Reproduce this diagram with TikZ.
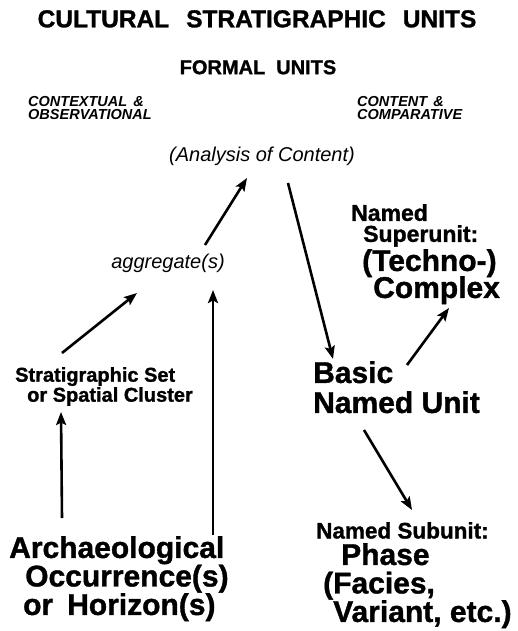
\documentclass[tikz,border=0pt]{standalone}
\usepackage{fontspec}
\setmainfont{Liberation Sans}[BoldFeatures={FakeBold=1.2}]
\usetikzlibrary{arrows.meta}
\newcommand\fsz[2]{\fontsize{#1}{#2}\selectfont\lineskiplimit=-30pt}
\tikzset{
  txt/.style={inner sep=0pt, text=black},
  arr/.style={line width=2.6pt, -{Stealth[length=13pt,width=10pt,inset=2.5pt]}},
}
\begin{document}
\begin{tikzpicture}[x=1pt,y=-1pt]
  \useasboundingbox (0,0) rectangle (517,631);
  % headings
  \node[txt,anchor=north,font=\fsz{24.5}{24}\bfseries] (title) at (257,10) {CULTURAL\hspace{17pt}STRATIGRAPHIC\hspace{17pt}UNITS};
  \node[txt,anchor=north,font=\fsz{20}{20}\bfseries] (formal) at (258,60) {FORMAL\hspace{11pt}UNITS};
  \node[txt,anchor=north west,align=left,font=\fsz{14.5}{13}\bfseries\itshape] (ctx) at (28,96) {CONTEXTUAL\hspace{6pt}\&\\OBSERVATIONAL};
  \node[txt,anchor=north west,align=left,font=\fsz{14.5}{13}\bfseries\itshape] (cmp) at (357,96) {CONTENT\hspace{6pt}\&\\COMPARATIVE};

  % units
  \node[txt,anchor=base,font=\fsz{20}{20}\itshape] (ana) at (262,162) {(Analysis of Content)};
  \node[txt,anchor=base,font=\fsz{20}{20}\itshape] (agg) at (168,268) {aggregate(s)};
  \node[txt,anchor=north west,align=left,font=\fsz{20}{20}\bfseries] (strat) at (15,367) {Stratigraphic Set\\\hspace{12pt}or Spatial Cluster};
  \node[txt,anchor=north west,align=left,font=\fsz{30}{28.5}\bfseries] (arch) at (9,536) {Archaeological\\\hspace{16pt}Occurrence(s)\\\hspace{14pt}or\hspace{14pt}Horizon(s)};
  \node[txt,anchor=north west,align=left,font=\fsz{30}{30}\bfseries] (basic) at (313,361) {Basic\\Named Unit};
  \node[txt,anchor=north west,align=left,font=\fsz{23}{21}\bfseries] (supname) at (351,204) {Named\\\hspace{12pt}Superunit:};
  \node[txt,anchor=north west,align=left,font=\fsz{30}{27}\bfseries] (super) at (362,249) {(Techno-)\\\hspace{11pt}Complex};
  \node[txt,anchor=north west,font=\fsz{22.5}{22.5}\bfseries] (subname) at (316,522) {Named Subunit:};
  \node[txt,anchor=north west,align=left,font=\fsz{30}{28.5}\bfseries] (sub) at (323,543) {\hspace{18pt}Phase\\(Facies,\\\hspace{10pt}Variant, etc.)};

  % arrows
  \draw[arr] ([shift={(53,-18)}]arch.north west) -- ([shift={(46,45)}]strat.north west);
  \draw[arr] ([shift={(204,-1)}]arch.north west) -- ([shift={(45,22)}]agg.base);
  \draw[arr] ([shift={(47,-14)}]strat.north west) -- ([shift={(-31,25)}]agg.base);
  \draw[arr] ([shift={(37,-23)}]agg.base) -- ([shift={(-15,16)}]ana.base);
  \draw[arr] ([shift={(26,21)}]ana.base) -- ([shift={(20,-2)}]basic.north west);
  \draw[arr] ([shift={(94,4)}]basic.north west) -- ([shift={(87,59)}]super.north west);
  \draw[arr] ([shift={(51,69)}]basic.north west) -- ([shift={(96,-12)}]subname.north west);
\end{tikzpicture}
\end{document}
